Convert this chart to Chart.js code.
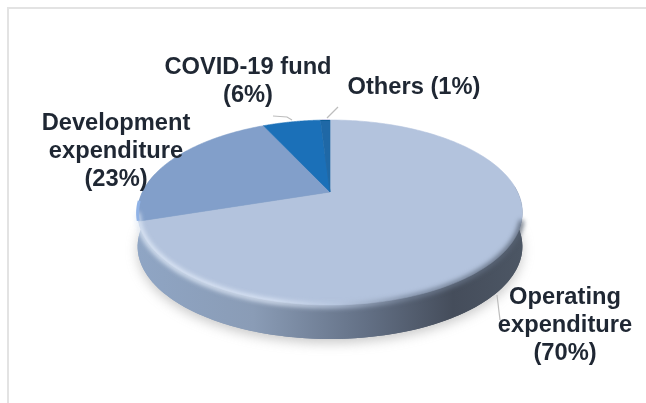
<!DOCTYPE html>
<html>
<head>
<meta charset="utf-8">
<script src="https://cdn.jsdelivr.net/npm/chart.js@4/dist/chart.umd.min.js"></script>
<style>
  html, body { margin: 0; padding: 0; background: #fff; }
  #wrap { position: relative; width: 646px; height: 403px; }
</style>
</head>
<body>
<div id="wrap"><canvas id="budget" width="646" height="403"></canvas></div>
<script>
// Budget breakdown shares, in percent
const categories = ['Operating expenditure', 'Development expenditure', 'COVID-19 fund', 'Others'];
const shares = [70, 23, 6, 1];
const sliceColors = ['#b3c3dd', '#829fca', '#1b70b8', '#1f68a6'];

// Label text split into lines, and the point each block is centred on
const labelLines = [['Operating', 'expenditure'], ['Development', 'expenditure'], ['COVID-19 fund'], ['Others']];
const labelAnchors = [[565, 297], [116, 123], [248, 67], [414, 87]];
const labelSize = 23.7;
const lineGap = 28;

// Tilted disc: perspective of the top face and thickness of the rim
const tilt = { cx: 330, cy: 192, a: 87.95, b: 187.6, k: -0.2216, depth: 34 };

function project(u, v) {
  const w = 1 + tilt.k * v;
  return [tilt.cx + tilt.b * u / w, tilt.cy + tilt.a * v / w];
}

function tracePerimeter(ctx, from, to, dy) {
  const steps = 180;
  for (let i = 0; i <= steps; i++) {
    const t = from + (to - from) * i / steps;
    const p = project(Math.cos(t), Math.sin(t));
    ctx.lineTo(p[0], p[1] + (dy || 0));
  }
}

const tiltedPie = {
  id: 'tiltedPie',
  beforeDraw(chart) {
    const ctx = chart.ctx;
    ctx.save();
    // frame lines along the top and left
    ctx.fillStyle = '#e3e3e3';
    ctx.fillRect(7, 7, 639, 2);
    ctx.fillRect(7, 7, 2, 396);
    ctx.restore();
  },
  beforeDatasetDraw(chart, args) {
    const ctx = chart.ctx;
    const arcs = args.meta.data;

    // soft shadow under the disc
    ctx.save();
    ctx.filter = 'blur(6px)';
    ctx.fillStyle = 'rgba(120,120,120,0.4)';
    ctx.beginPath();
    tracePerimeter(ctx, 0, Math.PI * 2, tilt.depth + 4);
    ctx.closePath();
    ctx.fill();
    ctx.restore();

    // rim: outer wall of the disc, lit from the left
    ctx.save();
    const wall = ctx.createLinearGradient(138, 0, 522, 0);
    wall.addColorStop(0, '#8fa5c4');
    wall.addColorStop(0.3, '#8a9cb6');
    wall.addColorStop(0.6, '#626f84');
    wall.addColorStop(0.82, '#454d5b');
    wall.addColorStop(1, '#4c5664');
    ctx.fillStyle = wall;
    ctx.beginPath();
    tracePerimeter(ctx, 0, Math.PI * 2, tilt.depth);
    ctx.closePath();
    ctx.fill();
    ctx.beginPath();
    tracePerimeter(ctx, Math.PI * 1.07, -0.07, 0);
    tracePerimeter(ctx, -0.07, Math.PI * 1.07, tilt.depth);
    ctx.closePath();
    ctx.fill();
    ctx.restore();

    // top face: each slice takes its angles and colour from the chart's arc
    arcs.forEach(arc => {
      ctx.beginPath();
      const c = project(0, 0);
      ctx.moveTo(c[0], c[1]);
      tracePerimeter(ctx, arc.startAngle, arc.endAngle, 0);
      ctx.closePath();
      ctx.fillStyle = arc.options.backgroundColor;
      ctx.strokeStyle = arc.options.backgroundColor;
      ctx.lineWidth = 0.6;
      ctx.fill();
      ctx.stroke();
    });

    // bevel between face and rim: bright on the left, dark on the right
    ctx.save();
    ctx.filter = 'blur(2.4px)';
    ctx.lineWidth = 4.5;
    const bevel = ctx.createLinearGradient(138, 0, 522, 0);
    bevel.addColorStop(0, '#e4edf9');
    bevel.addColorStop(0.35, '#dfe9f8');
    bevel.addColorStop(0.52, '#b8c7df');
    bevel.addColorStop(0.7, '#76849a');
    bevel.addColorStop(1, '#566172');
    ctx.strokeStyle = bevel;
    ctx.beginPath();
    tracePerimeter(ctx, 0.3, Math.PI * 0.93, 0.5);
    ctx.stroke();
    ctx.restore();

    // lighter lip on the outer edge of the development slice
    ctx.save();
    ctx.filter = 'blur(0.6px)';
    ctx.lineWidth = 3;
    ctx.strokeStyle = '#8fb2e6';
    ctx.beginPath();
    tracePerimeter(ctx, arcs[1].startAngle + 0.01, arcs[1].startAngle + 0.22, 0.5);
    ctx.stroke();
    ctx.restore();

    return false;
  },
  afterDatasetsDraw(chart) {
    const ctx = chart.ctx;
    ctx.save();
    // leader lines
    ctx.strokeStyle = '#bdbdbd';
    ctx.lineWidth = 1.2;
    [[[273, 116], [287, 117], [292, 120]], [[338, 107], [327, 118]], [[497, 295], [500, 320]]].forEach(l => {
      ctx.beginPath();
      l.forEach(p => ctx.lineTo(p[0], p[1]));
      ctx.stroke();
    });
    // labels: name lines followed by the share
    ctx.font = 'bold ' + labelSize + 'px "Liberation Sans", Arial, sans-serif';
    ctx.fillStyle = '#1f2733';
    ctx.textAlign = 'center';
    ctx.textBaseline = 'middle';
    categories.forEach((name, i) => {
      const pct = '(' + shares[i] + '%)';
      const [x, y] = labelAnchors[i];
      if (name === 'Others') {
        ctx.fillText(labelLines[i][0] + ' ' + pct, x, y);
        return;
      }
      const lines = labelLines[i].concat(pct);
      lines.forEach((t, j) => ctx.fillText(t, x, y + j * lineGap));
    });
    ctx.restore();
  }
};

new Chart(document.getElementById('budget'), {
  type: 'pie',
  data: {
    labels: categories,
    datasets: [{ data: shares, backgroundColor: sliceColors, borderWidth: 0 }]
  },
  options: {
    responsive: false,
    animation: false,
    plugins: { legend: { display: false }, tooltip: { enabled: false } }
  },
  plugins: [tiltedPie]
});
</script>
</body>
</html>
